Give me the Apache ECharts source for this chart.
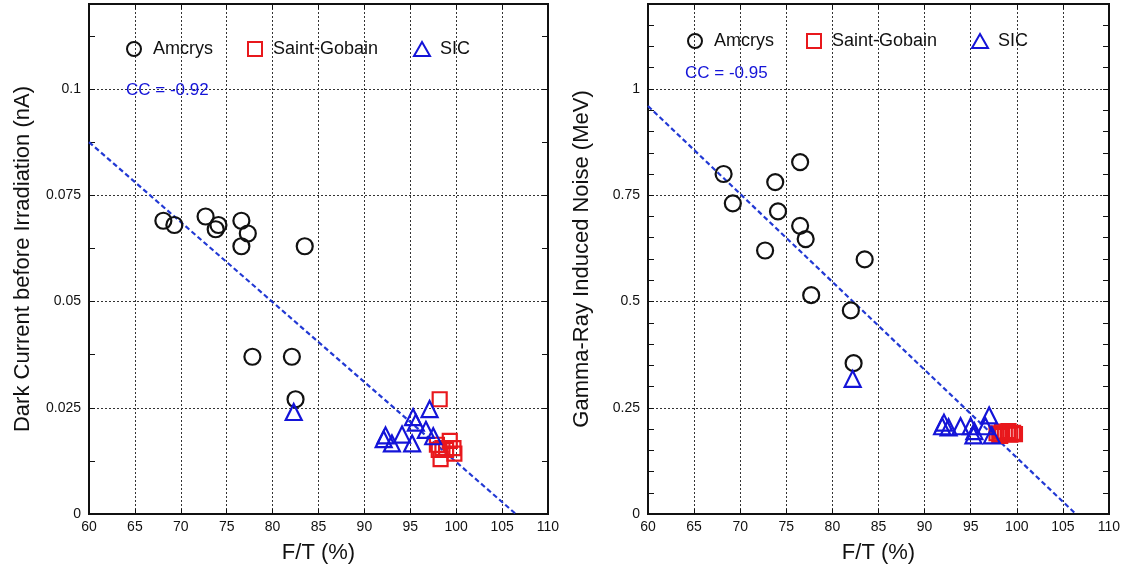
<!DOCTYPE html>
<html>
<head>
<meta charset="utf-8">
<script src="https://cdn.jsdelivr.net/npm/echarts@6/dist/echarts.min.js"></script>
<style>
html,body{margin:0;padding:0;background:#fff;}
#chart{width:1126px;height:573px;}
</style>
</head>
<body>
<div id="chart"></div>
<script>
// ---- Data ----
const seriesNames = ['Amcrys', 'Saint-Gobain', 'SIC'];

// Left panel: dark current before irradiation (nA) vs F/T (%)
const amcrysFT_L = [68.1, 69.3, 72.7, 73.8, 74.1, 76.6, 77.3, 76.6, 83.5, 77.8, 82.1, 82.5];
const amcrysDark = [0.069, 0.068, 0.070, 0.067, 0.068, 0.069, 0.066, 0.063, 0.063, 0.037, 0.037, 0.027];
const sgFT_L = [98.2, 97.9, 98.3, 99.3, 99.7, 98.9, 98.5, 99.8, 98.1];
const sgDark = [0.027, 0.0163, 0.0129, 0.0172, 0.0155, 0.0151, 0.0155, 0.0142, 0.0151];
const sicFT_L = [82.3, 92.3, 92.1, 93.0, 94.1, 95.2, 95.3, 95.6, 97.1, 96.7, 97.5];
const sicDark = [0.024, 0.0185, 0.0176, 0.0166, 0.0187, 0.0166, 0.0228, 0.0215, 0.0247, 0.0198, 0.0183];
const fitFT_L = [60, 106.5];
const fitDark = [0.0875, 0];
const ccLeft = 'CC = -0.92';

// Right panel: gamma-ray induced noise (MeV) vs F/T (%)
const amcrysFT_R = [68.2, 69.2, 72.7, 73.8, 74.1, 76.5, 76.5, 77.1, 77.7, 83.5, 82.0, 82.3];
const amcrysNoise = [0.800, 0.731, 0.620, 0.781, 0.712, 0.828, 0.678, 0.647, 0.515, 0.599, 0.479, 0.355];
const sgFT_R = [97.8, 98.1, 98.4, 98.7, 99.0, 99.3, 99.6, 99.8, 98.2, 99.1];
const sgNoise = [0.190, 0.186, 0.194, 0.189, 0.192, 0.187, 0.191, 0.188, 0.184, 0.195];
const sicFT_R = [82.2, 91.9, 92.1, 92.6, 93.9, 95.0, 95.3, 95.4, 97.0, 96.6, 97.3];
const sicNoise = [0.318, 0.2065, 0.215, 0.204, 0.2065, 0.2065, 0.185, 0.195, 0.232, 0.2065, 0.185];
const fitFT_R = [60, 106.4];
const fitNoise = [0.96, 0];
const ccRight = 'CC = -0.95';

// Axes
const xMin = 60, xMax = 110, xStep = 5;
const yMaxL = 0.12, yStepL = 0.025;
const yMaxR = 1.2, yStepR = 0.25;
const xTitle = 'F/T (%)';
const yTitleL = 'Dark Current before Irradiation (nA)';
const yTitleR = 'Gamma-Ray Induced Noise (MeV)';

// ---- Chart ----
const FONT = '"Liberation Sans", Arial, sans-serif';
const BLACK = '#111';
const RED = '#e8181c';
const BLUE = '#1414d8';
const LINEBLUE = '#2239d4';

const zip = (a, b) => a.map((v, i) => [v, b[i]]);

function xAxes(gi) {
  return [
    {
      type: 'value', gridIndex: gi, min: xMin, max: xMax, interval: xStep,
      position: 'bottom',
      name: xTitle, nameLocation: 'middle', nameGap: 28,
      nameTextStyle: {fontFamily: FONT, fontSize: 22, color: BLACK},
      axisLine: {show: true, onZero: false, lineStyle: {color: BLACK, width: 2}},
      axisTick: {show: true, inside: true, length: 5, lineStyle: {color: BLACK, width: 1}},
      axisLabel: {fontFamily: FONT, fontSize: 14, color: BLACK, margin: 6},
      splitLine: {show: true, lineStyle: {color: '#333', width: 1, type: [2, 2]}}
    },
    {
      type: 'value', gridIndex: gi, min: xMin, max: xMax, interval: xStep,
      position: 'top',
      axisLine: {show: true, onZero: false, lineStyle: {color: BLACK, width: 2}},
      axisTick: {show: true, inside: true, length: 5, lineStyle: {color: BLACK, width: 1}},
      axisLabel: {show: false},
      splitLine: {show: false}
    }
  ];
}

function yAxes(gi, yMax, step, title, minorSplit) {
  return [
    {
      type: 'value', gridIndex: gi, min: 0, max: yMax, interval: step,
      position: 'left',
      name: title, nameLocation: 'middle', nameGap: 55, nameRotate: 90,
      nameTextStyle: {fontFamily: FONT, fontSize: 22, color: BLACK},
      axisLine: {show: true, onZero: false, lineStyle: {color: BLACK, width: 2}},
      axisTick: {show: true, inside: true, length: 6, lineStyle: {color: BLACK, width: 1}},
      minorTick: {show: true, splitNumber: minorSplit, length: 6, lineStyle: {color: BLACK, width: 1}},
      axisLabel: {fontFamily: FONT, fontSize: 14, color: BLACK, margin: 8, showMaxLabel: false},
      splitLine: {show: true, showMaxLine: false, lineStyle: {color: '#333', width: 1, type: [2, 2]}}
    },
    {
      type: 'value', gridIndex: gi, min: 0, max: yMax, interval: step,
      position: 'right',
      axisLine: {show: true, onZero: false, lineStyle: {color: BLACK, width: 2}},
      axisTick: {show: true, inside: true, length: 6, lineStyle: {color: BLACK, width: 1}},
      minorTick: {show: true, splitNumber: minorSplit, length: 6, lineStyle: {color: BLACK, width: 1}},
      axisLabel: {show: false},
      splitLine: {show: false}
    }
  ];
}

function scatter(name, gi, data, symbol, size, color) {
  return {
    name: name, type: 'scatter', xAxisIndex: gi * 2, yAxisIndex: gi * 2,
    data: data, symbol: symbol, symbolSize: size, z: 3,
    itemStyle: {color: 'transparent', borderColor: color, borderWidth: 2.2, opacity: 1},
    emphasis: {disabled: true}, silent: true
  };
}

function fitLine(gi, data) {
  return {
    type: 'line', xAxisIndex: gi * 2, yAxisIndex: gi * 2, data: data,
    symbol: 'none', z: 2, silent: true,
    lineStyle: {color: LINEBLUE, width: 2.2, type: [5, 3]}
  };
}

const legendStyle = [
  {icon: 'circle', color: BLACK, w: 14, h: 14},
  {icon: 'rect', color: RED, w: 14, h: 14},
  {icon: 'triangle', color: BLUE, w: 16, h: 14}
];

function legends(iconCenters, textGaps, cy) {
  return seriesNames.map((n, i) => ({
    data: [n], orient: 'horizontal', padding: 0, selectedMode: false,
    left: iconCenters[i] - legendStyle[i].w / 2, top: cy - legendStyle[i].h / 2,
    icon: legendStyle[i].icon, itemWidth: legendStyle[i].w, itemHeight: legendStyle[i].h,
    itemStyle: {color: 'transparent', borderColor: legendStyle[i].color, borderWidth: 2},
    textStyle: {fontFamily: FONT, fontSize: 18, color: BLACK, padding: [0, 0, 0, textGaps[i]]}
  }));
}

const option = {
  animation: false,
  backgroundColor: '#fff',
  grid: [
    {left: 89, top: 4, width: 459, height: 510, show: true, borderColor: BLACK, borderWidth: 2, backgroundColor: 'transparent'},
    {left: 648, top: 4, width: 461, height: 510, show: true, borderColor: BLACK, borderWidth: 2, backgroundColor: 'transparent'}
  ],
  xAxis: [...xAxes(0), ...xAxes(1)],
  yAxis: [...yAxes(0, yMaxL, yStepL, yTitleL, 2), ...yAxes(1, yMaxR, yStepR, yTitleR, 5)],
  legend: [
    ...legends([133, 254, 421], [7, 6, 5], 47),
    ...legends([694, 813, 979], [7, 6, 5], 39)
  ],
  title: [
    {text: ccLeft, left: 126, top: 82, padding: 0,
     textStyle: {fontFamily: FONT, fontSize: 17, fontWeight: 'normal', color: BLUE}},
    {text: ccRight, left: 685, top: 65, padding: 0,
     textStyle: {fontFamily: FONT, fontSize: 17, fontWeight: 'normal', color: BLUE}}
  ],
  series: [
    fitLine(0, zip(fitFT_L, fitDark)),
    scatter('Amcrys', 0, zip(amcrysFT_L, amcrysDark), 'circle', 16, BLACK),
    scatter('Saint-Gobain', 0, zip(sgFT_L, sgDark), 'rect', 14, RED),
    scatter('SIC', 0, zip(sicFT_L, sicDark), 'triangle', 16, BLUE),
    fitLine(1, zip(fitFT_R, fitNoise)),
    scatter('Amcrys', 1, zip(amcrysFT_R, amcrysNoise), 'circle', 16, BLACK),
    scatter('Saint-Gobain', 1, zip(sgFT_R, sgNoise), 'rect', 14, RED),
    scatter('SIC', 1, zip(sicFT_R, sicNoise), 'triangle', 16, BLUE)
  ]
};

const chart = echarts.init(document.getElementById('chart'), null, {renderer: 'canvas'});
chart.setOption(option);
</script>
</body>
</html>
